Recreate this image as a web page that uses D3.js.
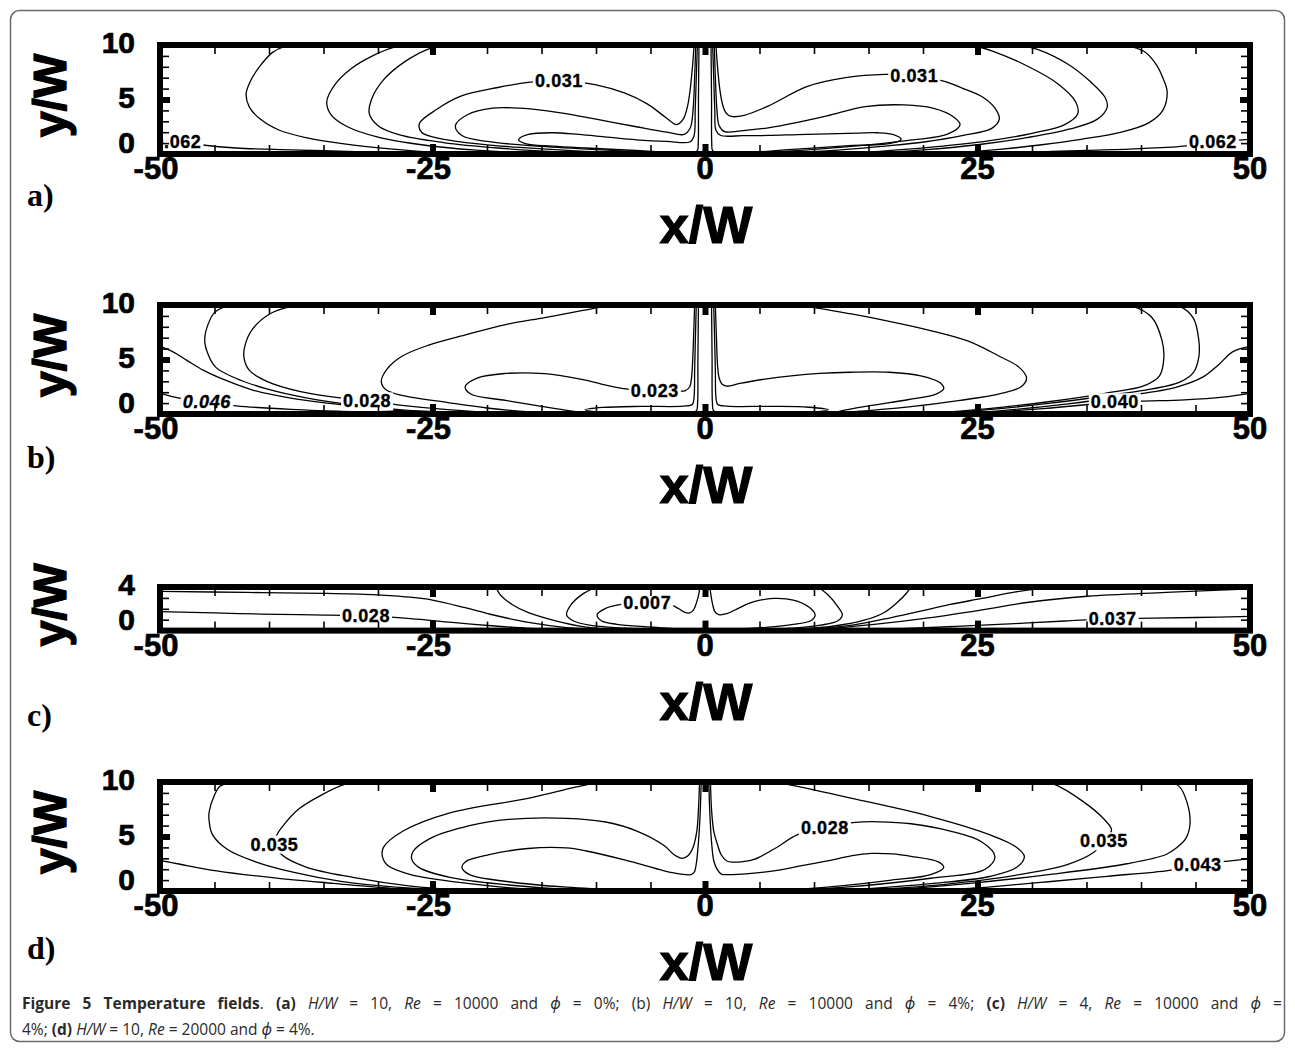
<!DOCTYPE html>
<html>
<head>
<meta charset="utf-8">
<script src="https://cdn.jsdelivr.net/npm/d3@7"></script>
<style>
  body { margin: 0; background: #fff; }
  svg { display: block; }
</style>
</head>
<body>
<svg id="fig" width="1295" height="1050"></svg>
<script>
// ---------------- data ----------------
const xTickValues = [-50, -25, 0, 25, 50];
const panelLetters = ["a)", "b)", "c)", "d)"];
const panelHeights = [10, 10, 4, 10];          // H/W of each channel
const yTickLabelsH10 = [0, 5, 10];
const yTickLabelsH4 = [0, 4];

// isotherms, (x/W, y/W) points
const contoursA = [
  [[-37,10],[-38.6,9.85],[-39.7,9.3],[-40.8,8.1],[-41.7,6.7],[-42.1,5.5],[-41.8,4.3],[-40.8,3.2],[-39.1,2.2],[-36.6,1.5],[-33.1,0.93],[-28.9,0.47],[-25,0.17],[-20,0.02]],
  [[-27,10],[-28.5,9.8],[-30.5,9.0],[-32.5,7.8],[-34.0,6.3],[-34.7,4.8],[-34.3,3.6],[-32.8,2.5],[-30,1.55],[-26,0.85],[-21,0.35],[-16,0.08],[-12,0]],
  [[-23.5,10],[-25.2,9.7],[-27.5,8.5],[-29.5,6.8],[-30.6,5.0],[-30.8,3.7],[-30,2.6],[-28,1.75],[-24,1.05],[-19,0.55],[-13,0.18],[-8,0.03]],
  [[-1.0,10],[-1.15,8],[-1.35,6],[-1.6,4.4],[-2.0,3.2],[-2.6,2.7],[-3.6,3.35],[-5.3,4.6],[-7.4,5.6],[-10,6.35],[-13.4,6.7],[-16,6.6],[-19,6.1],[-22.4,5.3],[-24.6,4.1],[-26.2,2.8],[-26,2.0],[-24.5,1.45],[-21.5,1.0],[-17,0.6],[-11,0.25],[-5,0.05],[-1.5,0]],
  [[-0.85,10],[-0.95,7],[-1.1,4],[-1.35,2.4],[-1.9,1.8],[-3.5,2.0],[-6.3,2.5],[-10,3.2],[-13.4,3.8],[-17,4.2],[-19.5,4.2],[-21.8,3.6],[-22.9,2.6],[-22.3,1.7],[-20,1.15],[-15,0.7],[-9,0.35],[-3,0.06],[-1,0]],
  [[-0.7,10],[-0.8,7],[-0.9,4],[-1.0,1.7],[-1.35,1.12],[-3.5,1.15],[-6.3,1.3],[-9,1.55],[-11.6,1.8],[-14,1.95],[-16.2,1.8],[-17.1,1.3],[-16.4,0.92],[-14,0.72],[-11,0.55],[-6.3,0.32],[-2,0.08],[-0.8,0.02]],
  [[-0.55,10],[-0.6,5],[-0.62,1],[-0.7,0.3],[-1.2,0.1],[-3,0.03],[-6,0]],
  [[38.5,10],[40.3,9.4],[41.4,8.2],[42.0,7.0],[42.4,5.7],[42.0,4.0],[40.7,2.85],[38.2,2.0],[34.5,1.35],[30.9,0.85],[27,0.42],[23,0.12],[19,0]],
  [[28.8,10],[30.5,9.6],[33.2,8.3],[35.4,6.6],[36.7,5.2],[36.9,4.3],[36,3.2],[33.5,2.3],[29.5,1.5],[25,0.85],[20,0.38],[15,0.1],[11,0]],
  [[24.5,10],[26.5,9.4],[29.5,8.1],[32.3,6.5],[34,4.8],[34.2,3.7],[33,2.7],[30,1.9],[26,1.2],[21,0.65],[16,0.25],[11,0.06],[7,0]],
  [[1.0,10],[1.15,8],[1.35,6],[1.6,4.6],[1.9,3.8],[2.4,3.45],[3.6,3.55],[5.8,4.4],[9.4,6.2],[12.9,7.0],[16.5,7.3],[19.2,7.2],[21.8,6.7],[23.7,6.0],[25.5,5.2],[26.6,4.2],[27,3.2],[26.3,2.35],[23.7,1.7],[20.1,1.1],[16.5,0.72],[12.2,0.35],[6,0.06],[2,0]],
  [[0.85,10],[0.95,7],[1.1,4],[1.3,2.6],[1.8,2.05],[3.5,2.15],[5.8,2.4],[8.5,2.9],[11.2,3.5],[14.7,4.35],[18.3,4.5],[20.9,4.2],[22.8,3.4],[23.4,2.7],[22.3,1.85],[18.3,1.2],[12.9,0.65],[8,0.28],[3,0.05],[1,0]],
  [[0.7,10],[0.8,7],[0.9,4],[1.0,2.2],[1.4,1.72],[3.5,1.68],[5.8,1.7],[8.5,1.78],[11.2,1.85],[14,1.92],[15.8,1.95],[17.3,1.78],[18,1.34],[16.9,0.95],[12.9,0.75],[8,0.42],[3,0.08],[0.8,0.02]],
  [[0.55,10],[0.6,5],[0.62,1],[0.7,0.3],[1.2,0.1],[3,0.03],[6,0]],
  [[-50,1.3],[-48.4,1.15],[-46.3,0.85],[-43,0.55],[-38,0.38],[-32,0.22],[-27,0.08],[-23,0]],
  [[50,1.35],[46.6,1.12],[44.2,0.75],[40,0.5],[35,0.33],[30.9,0.2],[27,0.08],[24,0]]
];
const labelsA = [
  {t:"0.031", x:-13.4, y:6.7},
  {t:"0.031", x:19.2, y:7.2},
  {t:"0.062", x:-48.4, y:1.15},
  {t:"0.062", x:46.6, y:1.12}
];

const contoursB = [
  [[-42.5,10],[-44,9.85],[-45,9.3],[-45.6,8.2],[-45.9,6.8],[-45.6,5.5],[-44.9,4.3],[-43.1,3.3],[-40.2,2.3],[-36.7,1.5],[-32.4,0.83],[-27.8,0.38],[-23,0.14],[-18,0.02]],
  [[-36.5,10],[-38,9.85],[-39.9,9.2],[-41.5,7.8],[-42.2,6.3],[-42.3,5.2],[-41.8,4.0],[-40.2,3.0],[-37.1,2.05],[-34,1.55],[-31,1.2],[-27.8,0.8],[-23.6,0.4],[-19,0.1],[-14,0]],
  [[-50,6.2],[-48.8,5.7],[-47.5,4.9],[-46,4.0],[-44,3.1],[-41.5,2.2],[-38,1.45],[-34,0.92],[-30,0.45],[-25,0.17],[-20,0.04],[-15,0]],
  [[-50,1.9],[-48.2,1.45],[-45.7,1.1],[-43,0.75],[-38,0.42],[-32,0.2],[-25,0.06],[-20,0]],
  [[-8,0],[-12,0.05],[-16,0.2],[-20,0.55],[-23.6,1.05],[-27.8,1.7],[-29.3,2.25],[-29.7,3.0],[-29.1,4.2],[-27.8,5.3],[-25.4,6.3],[-21.8,7.3],[-18.3,8.2],[-14.7,8.85],[-11.2,9.5],[-9,9.9],[-7,10.05]],
  [[7,10.05],[9,9.9],[13.3,9.2],[16.9,8.5],[20.5,7.7],[24.1,6.7],[27,5.3],[28.8,4.3],[29.5,3.3],[29,2.5],[27,1.85],[23.4,1.25],[18.7,0.65],[14,0.25],[10,0.05],[6,0]],
  [[-0.95,10],[-1.05,7],[-1.15,4.5],[-1.25,3.2],[-1.4,2.5],[-1.8,2.15],[-2.5,2.1],[-4.6,2.12],[-7.3,2.3],[-9.5,2.75],[-11.2,3.15],[-14.7,3.7],[-18.3,3.72],[-20.9,3.3],[-22,2.5],[-21.5,1.83],[-18.3,1.25],[-15,0.7],[-12.5,0.3],[-10.5,0.08],[-7,0.01],[-2,0]],
  [[0.95,10],[1.05,7],[1.15,4.5],[1.3,3.3],[1.55,2.75],[2.0,2.55],[3.2,2.8],[5.5,3.2],[7.9,3.5],[10.5,3.72],[13.3,3.83],[16.9,3.83],[19.8,3.5],[21.6,2.85],[21.9,2.33],[21.2,1.83],[18.7,1.33],[15,0.75],[12.8,0.35],[11.5,0.1],[8,0.01],[2,0]],
  [[-0.8,10],[-0.88,7],[-0.95,4],[-1.0,1.6],[-1.15,0.9],[-2,0.72],[-5.8,0.7],[-9.4,0.6],[-11,0.38],[-9.4,0.14],[-4.1,0.04],[-1.5,0.01]],
  [[0.8,10],[0.88,7],[0.95,4],[1.0,1.6],[1.15,0.9],[2,0.72],[6,0.7],[9.5,0.62],[11.3,0.4],[9.5,0.15],[4.5,0.04],[1.5,0.01]],
  [[-0.6,10],[-0.65,5],[-0.68,1],[-0.78,0.3],[-1.3,0.1],[-3,0.03],[-6,0]],
  [[0.6,10],[0.65,5],[0.68,1],[0.78,0.3],[1.3,0.1],[3,0.03],[6,0]],
  [[38,10],[39.2,9.9],[41,8.85],[41.9,6.85],[42.1,5.2],[41.7,3.5],[40.3,2.6],[36.7,1.9],[31.3,1.1],[26,0.5],[21,0.12],[17,0]],
  [[42.5,10],[43.5,9.9],[44.8,8.8],[45.3,6.8],[45.3,5.2],[44.8,3.8],[43.5,2.9],[41,2.3],[36.7,1.65],[31.3,0.95],[26,0.4],[21,0.06]],
  [[50,6.2],[48.4,5.7],[47.1,4.5],[45.7,3.4],[43.2,2.45],[38.5,1.65],[33.1,0.9],[27.7,0.35],[24,0.1],[20,0]],
  [[50,1.9],[47.5,1.55],[44,1.3],[41,1.2],[37.6,1.12],[34.9,0.85],[31,0.5],[27,0.22],[23,0.05],[19,0]]
];
const labelsB = [
  {t:"0.046", x:-45.7, y:1.1, italic:true},
  {t:"0.028", x:-31, y:1.2},
  {t:"0.023", x:-4.6, y:2.12},
  {t:"0.040", x:37.6, y:1.12}
];

const contoursC = [
  [[-50,3.6],[-42,3.5],[-35,3.42],[-30.5,3.3],[-27.5,3.1],[-25,2.8],[-22,2.1],[-19.7,1.5],[-16.2,0.75],[-12.7,0.28],[-9.2,0.08],[-6,0.01]],
  [[-50,1.75],[-45,1.62],[-40.8,1.52],[-36,1.44],[-31.1,1.35],[-27,1.1],[-23.2,0.75],[-19,0.4],[-16,0.2],[-12,0.05],[-8,0]],
  [[-19.2,4.05],[-18.8,3.3],[-17.7,2.4],[-16.2,1.65],[-13.7,0.9],[-10.9,0.32],[-7.4,0.06],[-4,0]],
  [[-2,0],[-3.9,0.06],[-7.4,0.22],[-10.6,0.5],[-12.1,0.9],[-12.7,1.45],[-12.3,2.36],[-11.3,3.3],[-9.9,4.05]],
  [[10.3,4.05],[11.3,3.27],[12.2,2.18],[12.6,1.45],[12.2,0.9],[10.6,0.5],[8.1,0.22],[4.5,0.06],[2,0]],
  [[-0.45,4.05],[-0.6,3.2],[-0.8,2.5],[-1.05,1.9],[-1.4,1.62],[-1.9,1.7],[-2.4,2.0],[-3.2,2.4],[-5.3,2.55],[-7.7,2.4],[-9.2,2.0],[-9.9,1.45],[-9.5,0.9],[-8.1,0.58],[-4.9,0.32],[-2.1,0.12],[0,0.02]],
  [[0.45,4.05],[0.55,3.2],[0.7,2.4],[0.9,1.75],[1.26,1.47],[2,1.55],[3.1,2.07],[4.5,2.65],[6.3,2.95],[8.1,2.8],[9.5,2.18],[10.1,1.45],[9.7,0.9],[8.1,0.58],[5.6,0.3],[2.7,0.1],[0,0.02]],
  [[18.9,4.05],[18.5,3.45],[17.6,2.55],[16.4,1.64],[14.6,0.95],[11.7,0.4],[8.1,0.12],[5.6,0]],
  [[34,4.05],[31,3.9],[28.5,3.55],[25.4,2.95],[22.5,2.4],[20.7,2.0],[17.1,1.2],[13.5,0.5],[9.9,0.15],[6.3,0.02]],
  [[50,3.8],[49.5,3.8],[42.3,3.5],[35.1,3.15],[29.7,2.6],[25.4,1.9],[20.7,1.2],[15.3,0.55],[10.6,0.12],[6.3,0.01]],
  [[50,1.3],[45,1.2],[41,1.14],[37.4,1.1],[33,0.88],[28,0.62],[23,0.38],[18,0.18],[13,0.05],[9,0]]
];
const labelsC = [
  {t:"0.028", x:-31.1, y:1.35},
  {t:"0.007", x:-5.3, y:2.55},
  {t:"0.037", x:37.4, y:1.1}
];

const contoursD = [
  [[-43.5,10],[-44.5,9.6],[-45,8.8],[-45.5,7.2],[-45.5,6.5],[-45.2,5.2],[-43.8,3.8],[-41.3,2.7],[-37.7,1.7],[-33.4,0.88],[-28.4,0.35],[-23.4,0.06],[-19,0]],
  [[-31.5,10],[-33,9.8],[-35.2,8.8],[-37.3,7.5],[-38.7,6.0],[-39.3,5.1],[-39.5,4.3],[-38.8,3.3],[-36.6,2.2],[-32.3,1.25],[-27,0.45],[-23,0.14],[-18,0]],
  [[-50,2.8],[-48.4,2.5],[-44.8,1.85],[-39.5,1.2],[-34.1,0.7],[-28.8,0.25],[-25,0.08],[-20,0.01]],
  [[-10.9,0],[-16.25,0.17],[-21.6,0.67],[-27,1.5],[-29.1,2.33],[-29.6,3.17],[-29.5,4.0],[-27.7,5.5],[-23.4,7.17],[-16.25,8.5],[-12,9.5],[-9.5,10.05]],
  [[-0.5,10.05],[-0.6,7.5],[-0.75,5.5],[-1.1,4.0],[-1.6,3.2],[-2.1,3.0],[-2.8,3.3],[-3.75,4.17],[-6.25,5.5],[-9.1,6.33],[-12.7,6.67],[-18,6.57],[-21.6,6.0],[-25.2,4.83],[-26.8,3.6],[-26.9,2.9],[-26.25,2.17],[-23.4,1.25],[-18,0.55],[-12.7,0.15],[-7,0.01]],
  [[-0.35,10.05],[-0.45,7],[-0.6,4.5],[-0.8,2.5],[-1.0,1.7],[-1.3,1.5],[-2.2,1.55],[-3.75,1.85],[-7.3,2.83],[-10.9,3.67],[-12.7,3.95],[-16.25,3.9],[-19.8,3.33],[-22,2.67],[-22.3,2.17],[-21.6,1.5],[-18,0.85],[-12.7,0.35],[-7.3,0.1],[-3,0.01]],
  [[6,10.05],[8,9.7],[13.5,8.5],[20.7,6.83],[26.1,5.17],[28.6,4.0],[29.3,3.17],[28.6,2.17],[26.1,1.33],[20.7,0.67],[15.3,0.23],[11.7,0.03],[8,0]],
  [[0.5,10.05],[0.6,7.5],[0.8,5.5],[1.1,4.4],[1.5,3.3],[2.0,2.75],[2.6,2.65],[3.5,2.7],[4.5,2.9],[6.3,3.83],[8.5,5.17],[11,5.85],[13.8,6.3],[16,6.35],[18.9,6.17],[22.5,5.5],[25.4,4.5],[26.6,3.17],[25.7,2.0],[20.7,1.17],[13.5,0.4],[8.1,0.08],[4,0]],
  [[0.35,10.05],[0.45,7],[0.6,4.5],[0.8,2.8],[1.1,2.0],[1.5,1.55],[2.2,1.5],[4,1.6],[6.3,1.85],[9,2.35],[11.7,2.85],[13.5,3.25],[15.3,3.45],[17.2,3.4],[18.9,3.17],[21.4,2.67],[21.9,2.17],[20.7,1.5],[17.1,1.0],[11.7,0.4],[8,0.12],[4,0]],
  [[30.5,10.05],[32,9.8],[34.7,8.2],[36.6,6.6],[37.3,5.6],[36.6,4.6],[35.6,3.5],[33.3,2.45],[27.9,1.35],[20.7,0.5],[15,0.12],[11,0]],
  [[42.3,10.05],[43.5,9.6],[44.2,8.2],[44.5,6.2],[44.1,4.8],[43.3,4.0],[42.3,3.35],[38.7,2.5],[31.5,1.5],[24.3,0.7],[19,0.25],[15,0.02]],
  [[50,2.95],[48,2.75],[45.2,2.4],[42.6,1.9],[36.9,1.35],[31.5,0.85],[27,0.45],[24.3,0.25],[20,0.06],[17,0]]
];
const labelsD = [
  {t:"0.035", x:-39.5, y:4.3},
  {t:"0.028", x:11, y:5.85},
  {t:"0.035", x:36.6, y:4.6},
  {t:"0.043", x:45.2, y:2.4}
];

// caption runs: b = bold, i = italic
const captionLine1 = [
  {t:"Figure 5 Temperature fields", b:1}, {t:". "}, {t:"(a)", b:1}, {t:" "}, {t:"H/W", i:1}, {t:" = 10, "},
  {t:"Re", i:1}, {t:" = 10000 and "}, {t:"\u03D5", i:1}, {t:" = 0%; (b) "}, {t:"H/W", i:1}, {t:" = 10, "},
  {t:"Re", i:1}, {t:" = 10000 and "}, {t:"\u03D5", i:1}, {t:" = 4%; "}, {t:"(c)", b:1}, {t:" "},
  {t:"H/W", i:1}, {t:" = 4, "}, {t:"Re", i:1}, {t:" = 10000 and "}, {t:"\u03D5", i:1}, {t:" ="}
];
const captionLine2 = [
  {t:"4%; "}, {t:"(d)", b:1}, {t:" "}, {t:"H/W", i:1}, {t:" = 10, "}, {t:"Re", i:1},
  {t:" = 20000 and "}, {t:"\u03D5", i:1}, {t:" = 4%."}
];

// ---------------- layout ----------------
const svg = d3.select("#fig");
const X_LEFT = 160, X_RIGHT = 1250;
const UNIT = (X_RIGHT - X_LEFT) / 100;          // equal scaling in x and y
const panelTops = [45, 305, 587, 782];
const letterBaselines = [206, 468, 726, 959];
const contourSets = [contoursA, contoursB, contoursC, contoursD];
const labelSets = [labelsA, labelsB, labelsC, labelsD];
const AXIS_FONT = "'Liberation Sans', Arial, Helvetica, sans-serif";

svg.append("rect")
  .attr("x", 10.5).attr("y", 10.5).attr("width", 1274).attr("height", 1031)
  .attr("rx", 9).attr("fill", "none").attr("stroke", "#6a6a6a").attr("stroke-width", 1.5);

function drawPanel(i) {
  const H = panelHeights[i];
  const top = panelTops[i];
  const bottom = top + H * UNIT;
  const x = d3.scaleLinear().domain([-50, 50]).range([X_LEFT, X_RIGHT]);
  const y = d3.scaleLinear().domain([0, H]).range([bottom, top]);
  const g = svg.append("g");

  const clipId = "plotclip" + i;
  svg.append("clipPath").attr("id", clipId)
    .append("rect").attr("x", X_LEFT).attr("y", top)
    .attr("width", X_RIGHT - X_LEFT).attr("height", bottom - top);

  const plot = g.append("g").attr("clip-path", `url(#${clipId})`);
  const line = d3.line().x(d => x(d[0])).y(d => y(d[1]))
    .curve(d3.curveCatmullRom.alpha(0.5));

  plot.selectAll("path.iso").data(contourSets[i]).join("path")
    .attr("class", "iso").attr("d", line)
    .attr("fill", "none").attr("stroke", "#000").attr("stroke-width", 1.3)
    .attr("stroke-linejoin", "round").attr("stroke-linecap", "round");

  // contour labels sit in a gap cut out of the line
  plot.selectAll("g.lbl").data(labelSets[i]).join("g")
    .attr("class", "lbl")
    .attr("transform", d => `translate(${x(d.x)},${y(d.y)})`)
    .each(function (d) {
      const s = d3.select(this);
      const t = s.append("text")
        .attr("text-anchor", "middle").attr("dy", "0.36em")
        .attr("font-family", AXIS_FONT).attr("font-weight", "bold")
        .attr("font-style", d.italic ? "italic" : "normal")
        .attr("font-size", 18).attr("letter-spacing", 0.6)
        .attr("fill", "#000").attr("stroke", "#000").attr("stroke-width", 0.35)
        .text(d.t);
      const bb = t.node().getBBox();
      s.insert("rect", "text")
        .attr("x", bb.x - 2).attr("y", bb.y + 1)
        .attr("width", bb.width + 4).attr("height", bb.height - 2)
        .attr("fill", "#fff");
    });

  // frame
  g.append("rect").attr("x", X_LEFT).attr("y", top)
    .attr("width", X_RIGHT - X_LEFT).attr("height", bottom - top)
    .attr("fill", "none").attr("stroke", "#000").attr("stroke-width", 6);

  // inward ticks from d3 axes
  const xMinor = d3.range(-45, 50, 5).filter(v => v % 25 !== 0);
  const xMajor = [-25, 0, 25];
  const yMinor = d3.range(1, H).filter(v => v % 5 !== 0);
  const yMajor = d3.range(5, H, 5);
  function tickAxis(axis, transform, width) {
    const a = g.append("g").attr("transform", transform).call(axis);
    a.select(".domain").remove();
    a.selectAll(".tick text").remove();
    a.selectAll(".tick line").attr("stroke", "#000").attr("stroke-width", width);
  }
  tickAxis(d3.axisBottom(x).tickValues(xMinor).tickSize(-9), `translate(0,${bottom})`, 1.6);
  tickAxis(d3.axisTop(x).tickValues(xMinor).tickSize(-9), `translate(0,${top})`, 1.6);
  tickAxis(d3.axisBottom(x).tickValues(xMajor).tickSize(-10), `translate(0,${bottom})`, 6);
  tickAxis(d3.axisTop(x).tickValues(xMajor).tickSize(-10), `translate(0,${top})`, 6);
  tickAxis(d3.axisLeft(y).tickValues(yMinor).tickSize(-9), `translate(${X_LEFT},0)`, 1.6);
  tickAxis(d3.axisRight(y).tickValues(yMinor).tickSize(-9), `translate(${X_RIGHT},0)`, 1.6);
  if (yMajor.length) {
    tickAxis(d3.axisLeft(y).tickValues(yMajor).tickSize(-10), `translate(${X_LEFT},0)`, 6);
    tickAxis(d3.axisRight(y).tickValues(yMajor).tickSize(-10), `translate(${X_RIGHT},0)`, 6);
  }

  // tick labels
  const heavy = sel => sel.attr("font-family", AXIS_FONT).attr("font-weight", "bold")
    .attr("fill", "#000").attr("stroke", "#000").attr("stroke-width", 0.7);

  g.selectAll("text.xt").data(xTickValues).join("text").attr("class", "xt")
    .attr("x", d => x(d) - (d < 0 ? 4 : 0)).attr("y", bottom + 25)
    .attr("text-anchor", "middle").attr("font-size", 31)
    .call(heavy).text(d => String(d));

  const yLabels = H === 4 ? yTickLabelsH4 : yTickLabelsH10;
  g.selectAll("text.yt").data(yLabels).join("text").attr("class", "yt")
    .attr("x", 135).attr("y", d => y(d) + (d === 0 ? -1 : 8))
    .attr("text-anchor", "end").attr("font-size", 30)
    .call(heavy).text(d => d);

  // axis titles
  g.append("text").attr("x", 706).attr("y", bottom + 89)
    .attr("text-anchor", "middle").attr("font-size", 52)
    .call(heavy).attr("stroke-width", 1.2).text("x/W");

  const yc = (top + bottom) / 2 - 4;
  g.append("text").attr("transform", `translate(66,${yc}) rotate(-90)`)
    .attr("text-anchor", "middle").attr("font-size", 47)
    .call(heavy).attr("stroke-width", 1.2).text("y/W");

  // panel letter
  g.append("text").attr("x", 27).attr("y", letterBaselines[i])
    .attr("font-family", "'Liberation Serif', 'Times New Roman', serif")
    .attr("font-weight", "bold").attr("font-size", 32).attr("fill", "#000")
    .text(panelLetters[i]);
}

panelHeights.forEach((_, i) => drawPanel(i));

// ---------------- caption ----------------
const CAP_FONT = "'Open Sans', 'Noto Sans', sans-serif";
function captionLine(runs, baseline, justifyTo) {
  const t = svg.append("text").attr("x", 22).attr("y", baseline)
    .attr("font-family", CAP_FONT).attr("font-size", 15.5).attr("fill", "#2a2a2a")
    .attr("xml:space", "preserve").style("white-space", "pre");
  t.selectAll("tspan").data(runs).join("tspan")
    .attr("font-weight", d => d.b ? "bold" : "normal")
    .attr("font-style", d => d.i ? "italic" : "normal")
    .text(d => d.t);
  if (justifyTo) {
    const natural = t.node().getComputedTextLength();
    const spaces = runs.map(r => r.t).join("").split(" ").length - 1;
    const extra = (justifyTo - natural) / spaces;
    t.attr("word-spacing", extra);
  }
  return t;
}
captionLine(captionLine1, 1009, 1260);
captionLine(captionLine2, 1035, null);
</script>
</body>
</html>
